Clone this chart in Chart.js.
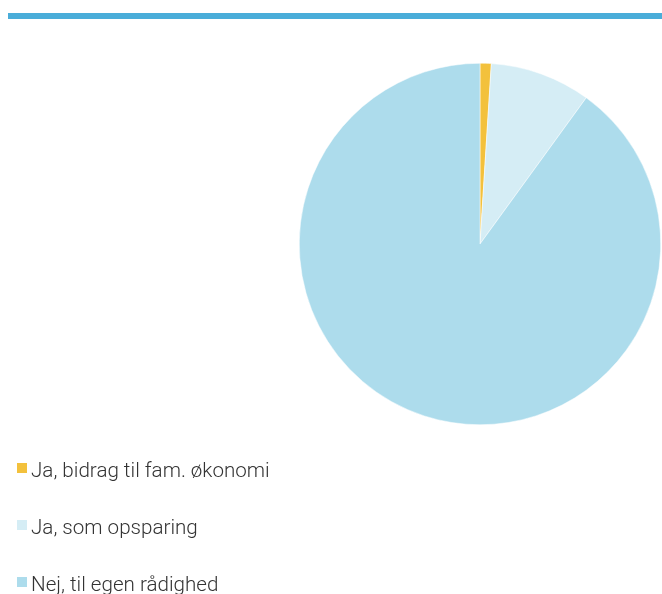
<!DOCTYPE html>
<html>
<head>
    <meta charset="utf-8">
    <title>Lommepenge</title>
    <style>
        body { font-family: Roboto, sans-serif; margin: 0; padding: 0; background: #fff; }
        #topBar { position: absolute; left: 8px; top: 13px; width: 654px; height: 6px; background: #4aadd9; }
        #chartContainer { position: absolute; left: 0; top: 0; width: 662px; height: 594px; }
        #legend { position: absolute; left: 17px; top: 458px; }
        .legendItem { height: 57px; font-size: 20.6px; font-weight: 300; color: #333; white-space: nowrap; }
        .legendItem span { display: inline-block; width: 10px; height: 10px; margin-right: 4px; vertical-align: 4px; }
    </style>
    <script src="https://cdn.jsdelivr.net/npm/chart.js"></script>
</head>
<body>

    <div id="topBar"></div>
    <div id="chartContainer">
        <canvas id="myPieChart"></canvas>
    </div>
    <div id="legend"></div>

    <script>
        const labels = ['Ja, bidrag til fam. økonomi', 'Ja, som opsparing', 'Nej, til egen rådighed'];
        const values = [1, 9, 90];
        const colors = ['#f3c13c', '#d5edf5', '#addcec'];

        const legendEl = document.getElementById('legend');
        labels.forEach((label, i) => {
            const item = document.createElement('div');
            item.className = 'legendItem';
            item.innerHTML = `<span style="background:${colors[i]}"></span>${label}`;
            legendEl.appendChild(item);
        });

        const ctx = document.getElementById('myPieChart').getContext('2d');
        new Chart(ctx, {
            type: 'pie',
            data: {
                labels: labels,
                datasets: [{
                    data: values,
                    backgroundColor: colors,
                    borderColor: '#ffffff',
                    borderWidth: 0.5
                }]
            },
            options: {
                responsive: true,
                maintainAspectRatio: false,
                animation: false,
                layout: {
                    padding: { left: 299, right: 1, top: 63, bottom: 169 }
                },
                plugins: {
                    legend: { display: false },
                    tooltip: { enabled: false }
                }
            }
        });
    </script>

</body>
</html>
